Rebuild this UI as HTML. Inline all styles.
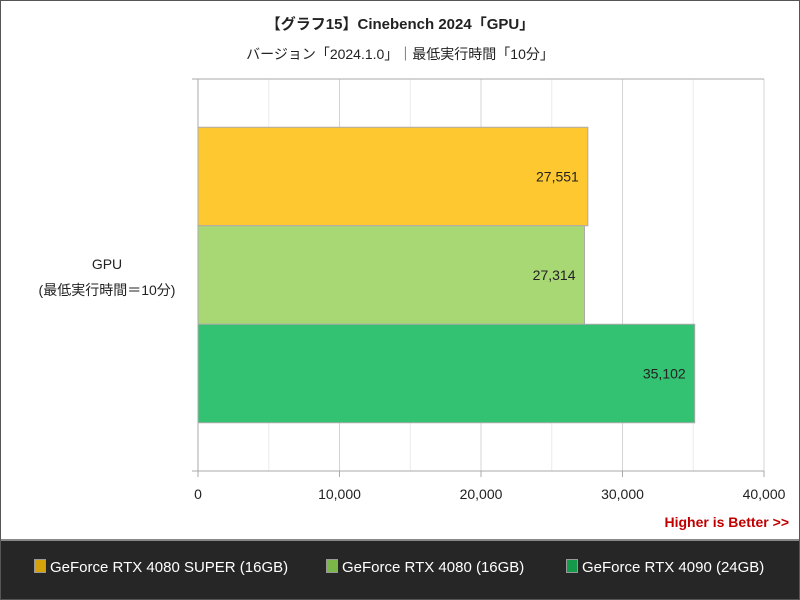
<!DOCTYPE html>
<html><head><meta charset="utf-8"><style>
body{margin:0;background:#fff;font-family:"Liberation Sans","Noto Sans CJK JP",sans-serif;}
#wrap{position:relative;width:798px;height:598px;border:1px solid #555;overflow:hidden;background:#fff}
.t{position:absolute;white-space:nowrap}
#legend{position:absolute;left:0;top:538px;width:798px;height:60px;background:#262626;border-top:2px solid #888}
.li{position:absolute;top:18px;color:#fff;font-size:15px}
.sw{display:inline-block;width:10px;height:12px;margin-right:4px;vertical-align:-1px;border:1px solid #999}
</style></head><body>
<div id="wrap">
<div class="t" style="left:0;width:798px;text-align:center;top:12px;font-size:15px;font-weight:bold;color:#222">【グラフ15】Cinebench 2024「GPU」</div>
<div class="t" style="left:0;width:798px;text-align:center;top:43px;font-size:14px;color:#222">バージョン「2024.1.0」｜最低実行時間「10分」</div>
<svg id="plot" width="798" height="538" style="position:absolute;left:0;top:0"></svg>
<div class="t" style="left:20px;width:172px;text-align:center;top:250px;font-size:14px;line-height:26px;color:#222">GPU<br>(最低実行時間＝10分)</div>
<div class="t" style="right:10px;top:513px;font-size:14px;font-weight:bold;color:#c00000">Higher is Better &gt;&gt;</div>
<div id="legend">
<div class="li" style="left:33px"><span class="sw" style="background:#d4a20a"></span>GeForce RTX 4080 SUPER (16GB)</div>
<div class="li" style="left:325px"><span class="sw" style="background:#7ab648"></span>GeForce RTX 4080 (16GB)</div>
<div class="li" style="left:565px"><span class="sw" style="background:#149a4a"></span>GeForce RTX 4090 (24GB)</div>
</div>
</div>
<script>
const series=["GeForce RTX 4080 SUPER (16GB)","GeForce RTX 4080 (16GB)","GeForce RTX 4090 (24GB)"];
const values=[27551,27314,35102];
const labels=["27,551","27,314","35,102"];
const ticks=[0,10000,20000,30000,40000];
const tickLabels=["0","10,000","20,000","30,000","40,000"];
const colors=["#fec930","#a8d874","#33c172"];
const NS="http://www.w3.org/2000/svg";
const svg=document.getElementById('plot');
const X0=197,X1=763,Y0=78,Y1=470,MAX=40000;
const x=v=>X0+(v/MAX)*(X1-X0);
function el(t,a){const e=document.createElementNS(NS,t);for(const k in a)e.setAttribute(k,a[k]);svg.appendChild(e);return e;}
for(let v=5000;v<=MAX;v+=5000){
 const g=el('line',{x1:x(v),x2:x(v),y1:Y0,y2:Y1,stroke:v%10000?'#ececec':'#d4d4d4','stroke-width':1});
 
 
}
const plotTopBorder=el('line',{x1:191,x2:X1,y1:Y0,y2:Y0,stroke:'#aaa'});


const bh=98.5,gstart=Y0+(Y1-Y0-bh*values.length)/2;
values.forEach((v,i)=>{
 const y=gstart+i*bh;
 const r=el('rect',{x:X0,y:y,width:x(v)-X0,height:bh,fill:colors[i],stroke:'#aaa','stroke-width':1});
 
 
 const t=el('text',{x:x(v)-9,y:y+bh/2+5,'text-anchor':'end','font-size':14,fill:'#222','font-family':'Liberation Sans, sans-serif'});
 t.textContent=labels[i];
 
 
});
const ya=el('line',{x1:X0,x2:X0,y1:Y0,y2:Y1,stroke:'#aaa'});


const xa=el('line',{x1:191,x2:X1,y1:Y1,y2:Y1,stroke:'#aaa'});


ticks.forEach((v,i)=>{
 const tk=el('line',{x1:x(v),x2:x(v),y1:Y1,y2:Y1+6,stroke:'#aaa'});
 
 
 const t=el('text',{x:x(v),y:498,'text-anchor':'middle','font-size':14,fill:'#222','font-family':'Liberation Sans, sans-serif'});
 t.textContent=tickLabels[i];
 
 
});
</script>
</body></html>
